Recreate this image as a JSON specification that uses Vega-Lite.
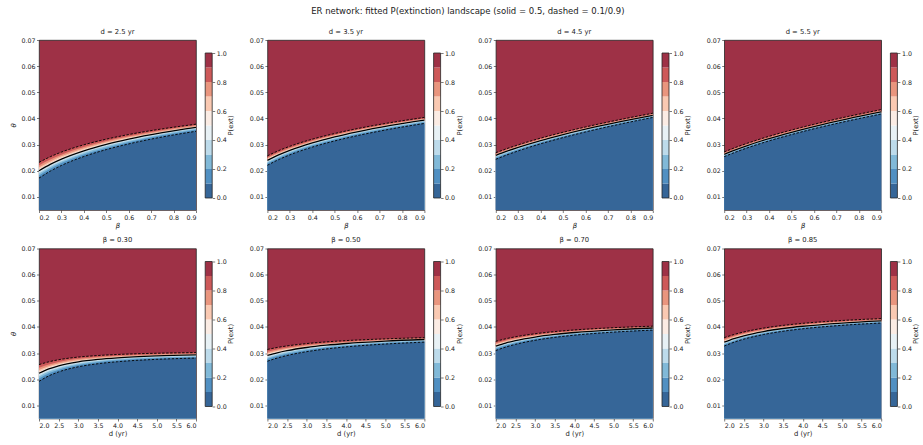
{
"$schema": "https://vega.github.io/schema/vega-lite/v6.json",
"padding": {"left": 10, "top": 7, "right": 2, "bottom": 5},
"title": {"text": "ER network: fitted P(extinction) landscape  (solid = 0.5, dashed = 0.1/0.9)", "fontSize": 8.5, "anchor": "middle", "dx": -9, "offset": 12.5, "fontWeight": "normal", "color": "#222"},
"config": {
  "font": "DejaVu Sans",
  "view": {"stroke": null},
  "axis": {"labelFont": "DejaVu Sans", "labelFontSize": 6.3, "labelColor": "#222", "tickColor": "#222", "tickSize": 2.5, "tickWidth": 0.6, "domain": false, "grid": false, "titleFont": "DejaVu Sans", "titleFontSize": 6.8, "titleFontWeight": "normal", "titleColor": "#222", "labelPadding": 1.5, "titlePadding": 2, "labelOverlap": false},
  "title": {"font": "DejaVu Sans", "fontSize": 6.8, "fontWeight": "normal", "color": "#222", "offset": 1.5},
  "area": {"interpolate": "monotone", "clip": true},
  "line": {"interpolate": "monotone", "clip": true, "color": "black"}
},
"datasets": {
"cb": [
{"b0":0,"b1":0.1,"c":"#366698"},{"b0":0.1,"b1":0.2,"c":"#5190c2"},{"b0":0.2,"b1":0.3,"c":"#81b9d8"},{"b0":0.3,"b1":0.4,"c":"#bddbeb"},{"b0":0.4,"b1":0.5,"c":"#e8f1f5"},{"b0":0.5,"b1":0.6,"c":"#fbece4"},{"b0":0.6,"b1":0.7,"c":"#fac9b2"},{"b0":0.7,"b1":0.8,"c":"#e9957e"},{"b0":0.8,"b1":0.9,"c":"#cd5959"},{"b0":0.9,"b1":1.0,"c":"#9e3146"}
],
"c": [
{"p":1,"x":0.2,"t1":0.0172,"t2":0.01823,"t3":0.01892,"t4":0.01948,"t5":0.02,"t6":0.02059,"t7":0.02124,"t8":0.02202,"t9":0.0232},
{"p":1,"x":0.25,"t1":0.01985,"t2":0.02081,"t3":0.02145,"t4":0.02198,"t5":0.02246,"t6":0.023,"t7":0.02358,"t8":0.02429,"t9":0.02536},
{"p":1,"x":0.3,"t1":0.02203,"t2":0.02293,"t3":0.02353,"t4":0.02403,"t5":0.02448,"t6":0.02497,"t7":0.02551,"t8":0.02616,"t9":0.02714},
{"p":1,"x":0.4,"t1":0.02545,"t2":0.02626,"t3":0.0268,"t4":0.02724,"t5":0.02765,"t6":0.02807,"t7":0.02853,"t8":0.02909,"t9":0.02993},
{"p":1,"x":0.5,"t1":0.0281,"t2":0.02884,"t3":0.02933,"t4":0.02974,"t5":0.03011,"t6":0.03048,"t7":0.03087,"t8":0.03136,"t9":0.03209},
{"p":1,"x":0.6,"t1":0.03027,"t2":0.03095,"t3":0.03141,"t4":0.03178,"t5":0.03212,"t6":0.03244,"t7":0.03279,"t8":0.03322,"t9":0.03386},
{"p":1,"x":0.75,"t1":0.03293,"t2":0.03354,"t3":0.03395,"t4":0.03428,"t5":0.03459,"t6":0.03486,"t7":0.03515,"t8":0.0355,"t9":0.03603},
{"p":1,"x":0.9,"t1":0.0351,"t2":0.03565,"t3":0.03602,"t4":0.03632,"t5":0.0366,"t6":0.03682,"t7":0.03706,"t8":0.03736,"t9":0.0378},
{"p":2,"x":0.2,"t1":0.0221,"t2":0.0228,"t3":0.02327,"t4":0.02365,"t5":0.024,"t6":0.02431,"t7":0.02466,"t8":0.02507,"t9":0.0257},
{"p":2,"x":0.25,"t1":0.02426,"t2":0.02493,"t3":0.02538,"t4":0.02574,"t5":0.02608,"t6":0.02638,"t7":0.0267,"t8":0.0271,"t9":0.02769},
{"p":2,"x":0.3,"t1":0.02608,"t2":0.02673,"t3":0.02715,"t4":0.02751,"t5":0.02783,"t6":0.02811,"t7":0.02842,"t8":0.0288,"t9":0.02936},
{"p":2,"x":0.4,"t1":0.02904,"t2":0.02965,"t3":0.03005,"t4":0.03038,"t5":0.03068,"t6":0.03094,"t7":0.03122,"t8":0.03156,"t9":0.03208},
{"p":2,"x":0.5,"t1":0.03141,"t2":0.03198,"t3":0.03236,"t4":0.03267,"t5":0.03296,"t6":0.0332,"t7":0.03346,"t8":0.03377,"t9":0.03425},
{"p":2,"x":0.6,"t1":0.03341,"t2":0.03396,"t3":0.03432,"t4":0.03462,"t5":0.03489,"t6":0.03511,"t7":0.03536,"t8":0.03565,"t9":0.0361},
{"p":2,"x":0.75,"t1":0.03596,"t2":0.03647,"t3":0.03681,"t4":0.03708,"t5":0.03734,"t6":0.03754,"t7":0.03776,"t8":0.03803,"t9":0.03843},
{"p":2,"x":0.9,"t1":0.0381,"t2":0.03858,"t3":0.0389,"t4":0.03916,"t5":0.0394,"t6":0.03959,"t7":0.03979,"t8":0.04003,"t9":0.0404},
{"p":3,"x":0.2,"t1":0.0244,"t2":0.02495,"t3":0.02532,"t4":0.02562,"t5":0.0259,"t6":0.02609,"t7":0.02629,"t8":0.02653,"t9":0.0269},
{"p":3,"x":0.25,"t1":0.02608,"t2":0.02661,"t3":0.02696,"t4":0.02725,"t5":0.02751,"t6":0.02769,"t7":0.02789,"t8":0.02813,"t9":0.02849},
{"p":3,"x":0.3,"t1":0.0276,"t2":0.0281,"t3":0.02844,"t4":0.02871,"t5":0.02896,"t6":0.02914,"t7":0.02933,"t8":0.02957,"t9":0.02992},
{"p":3,"x":0.4,"t1":0.03032,"t2":0.03078,"t3":0.03108,"t4":0.03133,"t5":0.03156,"t6":0.03173,"t7":0.03192,"t8":0.03215,"t9":0.03249},
{"p":3,"x":0.5,"t1":0.03269,"t2":0.03311,"t3":0.03339,"t4":0.03362,"t5":0.03383,"t6":0.034,"t7":0.03418,"t8":0.0344,"t9":0.03473},
{"p":3,"x":0.6,"t1":0.03485,"t2":0.03523,"t3":0.03549,"t4":0.0357,"t5":0.03589,"t6":0.03605,"t7":0.03623,"t8":0.03644,"t9":0.03676},
{"p":3,"x":0.75,"t1":0.03776,"t2":0.0381,"t3":0.03832,"t4":0.03851,"t5":0.03868,"t6":0.03883,"t7":0.039,"t8":0.0392,"t9":0.03951},
{"p":3,"x":0.9,"t1":0.0404,"t2":0.0407,"t3":0.04089,"t4":0.04105,"t5":0.0412,"t6":0.04135,"t7":0.04151,"t8":0.0417,"t9":0.042},
{"p":4,"x":0.2,"t1":0.0254,"t2":0.02573,"t3":0.02595,"t4":0.02613,"t5":0.0263,"t6":0.02647,"t7":0.02665,"t8":0.02687,"t9":0.0272},
{"p":4,"x":0.25,"t1":0.02711,"t2":0.02744,"t3":0.02766,"t4":0.02784,"t5":0.028,"t6":0.02817,"t7":0.02835,"t8":0.02857,"t9":0.0289},
{"p":4,"x":0.3,"t1":0.02866,"t2":0.02898,"t3":0.0292,"t4":0.02938,"t5":0.02954,"t6":0.02971,"t7":0.02989,"t8":0.03011,"t9":0.03044},
{"p":4,"x":0.4,"t1":0.03143,"t2":0.03175,"t3":0.03196,"t4":0.03213,"t5":0.03229,"t6":0.03246,"t7":0.03264,"t8":0.03286,"t9":0.03319},
{"p":4,"x":0.5,"t1":0.03384,"t2":0.03415,"t3":0.03436,"t4":0.03453,"t5":0.03469,"t6":0.03486,"t7":0.03504,"t8":0.03526,"t9":0.03559},
{"p":4,"x":0.6,"t1":0.03605,"t2":0.03636,"t3":0.03656,"t4":0.03673,"t5":0.03688,"t6":0.03705,"t7":0.03723,"t8":0.03745,"t9":0.03778},
{"p":4,"x":0.75,"t1":0.03901,"t2":0.03931,"t3":0.03951,"t4":0.03968,"t5":0.03983,"t6":0.04,"t7":0.04018,"t8":0.0404,"t9":0.04073},
{"p":4,"x":0.9,"t1":0.0417,"t2":0.042,"t3":0.04219,"t4":0.04235,"t5":0.0425,"t6":0.04267,"t7":0.04285,"t8":0.04307,"t9":0.0434},
{"p":5,"x":2,"t1":0.0192,"t2":0.02034,"t3":0.0211,"t4":0.02173,"t5":0.0223,"t6":0.02291,"t7":0.02357,"t8":0.02438,"t9":0.0256},
{"p":5,"x":2.25,"t1":0.0213,"t2":0.02228,"t3":0.02293,"t4":0.02346,"t5":0.02395,"t6":0.02446,"t7":0.025,"t8":0.02567,"t9":0.02668},
{"p":5,"x":2.5,"t1":0.02281,"t2":0.02367,"t3":0.02424,"t4":0.02471,"t5":0.02514,"t6":0.02557,"t7":0.02604,"t8":0.02661,"t9":0.02747},
{"p":5,"x":3,"t1":0.02477,"t2":0.02547,"t3":0.02594,"t4":0.02633,"t5":0.02668,"t6":0.02701,"t7":0.02737,"t8":0.02782,"t9":0.02848},
{"p":5,"x":3.5,"t1":0.02594,"t2":0.02655,"t3":0.02696,"t4":0.02729,"t5":0.0276,"t6":0.02787,"t7":0.02817,"t8":0.02853,"t9":0.02908},
{"p":5,"x":4,"t1":0.02671,"t2":0.02726,"t3":0.02763,"t4":0.02793,"t5":0.02821,"t6":0.02844,"t7":0.0287,"t8":0.02901,"t9":0.02948},
{"p":5,"x":5,"t1":0.02762,"t2":0.0281,"t3":0.02842,"t4":0.02868,"t5":0.02892,"t6":0.02911,"t7":0.02932,"t8":0.02957,"t9":0.02995},
{"p":5,"x":6,"t1":0.0281,"t2":0.02854,"t3":0.02884,"t4":0.02908,"t5":0.0293,"t6":0.02947,"t7":0.02965,"t8":0.02987,"t9":0.0302},
{"p":6,"x":2,"t1":0.0269,"t2":0.02771,"t3":0.02825,"t4":0.02869,"t5":0.0291,"t6":0.02953,"t7":0.02999,"t8":0.03055,"t9":0.0314},
{"p":6,"x":2.25,"t1":0.02812,"t2":0.02886,"t3":0.02935,"t4":0.02975,"t5":0.03012,"t6":0.0305,"t7":0.0309,"t8":0.0314,"t9":0.03215},
{"p":6,"x":2.5,"t1":0.02909,"t2":0.02977,"t3":0.03022,"t4":0.03059,"t5":0.03093,"t6":0.03127,"t7":0.03163,"t8":0.03208,"t9":0.03275},
{"p":6,"x":3,"t1":0.03055,"t2":0.03114,"t3":0.03153,"t4":0.03185,"t5":0.03215,"t6":0.03243,"t7":0.03273,"t8":0.0331,"t9":0.03365},
{"p":6,"x":3.5,"t1":0.03159,"t2":0.03212,"t3":0.03247,"t4":0.03276,"t5":0.03302,"t6":0.03325,"t7":0.03351,"t8":0.03382,"t9":0.03429},
{"p":6,"x":4,"t1":0.03238,"t2":0.03286,"t3":0.03318,"t4":0.03344,"t5":0.03368,"t6":0.03388,"t7":0.0341,"t8":0.03437,"t9":0.03478},
{"p":6,"x":5,"t1":0.03347,"t2":0.03388,"t3":0.03416,"t4":0.03438,"t5":0.03459,"t6":0.03475,"t7":0.03492,"t8":0.03513,"t9":0.03545},
{"p":6,"x":6,"t1":0.0342,"t2":0.03457,"t3":0.03481,"t4":0.03501,"t5":0.0352,"t6":0.03533,"t7":0.03547,"t8":0.03564,"t9":0.0359},
{"p":7,"x":2,"t1":0.031,"t2":0.03163,"t3":0.03204,"t4":0.03239,"t5":0.0327,"t6":0.03303,"t7":0.03339,"t8":0.03384,"t9":0.0345},
{"p":7,"x":2.25,"t1":0.0323,"t2":0.03287,"t3":0.03325,"t4":0.03356,"t5":0.03385,"t6":0.03415,"t7":0.03448,"t8":0.03487,"t9":0.03547},
{"p":7,"x":2.5,"t1":0.03334,"t2":0.03387,"t3":0.03422,"t4":0.03451,"t5":0.03477,"t6":0.03504,"t7":0.03534,"t8":0.0357,"t9":0.03624},
{"p":7,"x":3,"t1":0.0349,"t2":0.03536,"t3":0.03567,"t4":0.03592,"t5":0.03615,"t6":0.03638,"t7":0.03663,"t8":0.03694,"t9":0.0374},
{"p":7,"x":3.5,"t1":0.03602,"t2":0.03643,"t3":0.03671,"t4":0.03693,"t5":0.03714,"t6":0.03734,"t7":0.03756,"t8":0.03783,"t9":0.03823},
{"p":7,"x":4,"t1":0.03685,"t2":0.03723,"t3":0.03748,"t4":0.03769,"t5":0.03788,"t6":0.03806,"t7":0.03826,"t8":0.0385,"t9":0.03886},
{"p":7,"x":5,"t1":0.03802,"t2":0.03835,"t3":0.03857,"t4":0.03875,"t5":0.03891,"t6":0.03906,"t7":0.03922,"t8":0.03942,"t9":0.03972},
{"p":7,"x":6,"t1":0.0388,"t2":0.0391,"t3":0.03929,"t4":0.03945,"t5":0.0396,"t6":0.03973,"t7":0.03987,"t8":0.04004,"t9":0.0403},
{"p":8,"x":2,"t1":0.0327,"t2":0.03325,"t3":0.03362,"t4":0.03392,"t5":0.0342,"t6":0.03451,"t7":0.03486,"t8":0.03527,"t9":0.0359},
{"p":8,"x":2.25,"t1":0.03417,"t2":0.03468,"t3":0.03502,"t4":0.03529,"t5":0.03555,"t6":0.03584,"t7":0.03616,"t8":0.03654,"t9":0.03712},
{"p":8,"x":2.5,"t1":0.03534,"t2":0.03582,"t3":0.03613,"t4":0.03639,"t5":0.03663,"t6":0.0369,"t7":0.03719,"t8":0.03755,"t9":0.03809},
{"p":8,"x":3,"t1":0.0371,"t2":0.03752,"t3":0.03781,"t4":0.03804,"t5":0.03825,"t6":0.03849,"t7":0.03875,"t8":0.03907,"t9":0.03955},
{"p":8,"x":3.5,"t1":0.03836,"t2":0.03875,"t3":0.039,"t4":0.03922,"t5":0.03941,"t6":0.03963,"t7":0.03987,"t8":0.04016,"t9":0.0406},
{"p":8,"x":4,"t1":0.0393,"t2":0.03966,"t3":0.0399,"t4":0.0401,"t5":0.04028,"t6":0.04048,"t7":0.0407,"t8":0.04097,"t9":0.04138},
{"p":8,"x":5,"t1":0.04062,"t2":0.04094,"t3":0.04115,"t4":0.04133,"t5":0.04149,"t6":0.04167,"t7":0.04187,"t8":0.04211,"t9":0.04247},
{"p":8,"x":6,"t1":0.0415,"t2":0.0418,"t3":0.04199,"t4":0.04215,"t5":0.0423,"t6":0.04247,"t7":0.04265,"t8":0.04287,"t9":0.0432}
]
},
"columns": 8,
"align": "each",
"spacing": {"row": 38.5, "column": 9.2},
"bounds": "flush",
"concat": [
{"title": "d = 2.5 yr", "width": 157, "height": 170, "view": {"fill": "#9e3146", "stroke": "#262626", "strokeWidth": 0.8},
 "data": {"name": "c"}, "transform": [{"filter": "datum.p == 1"}, {"fold": ["t1","t2","t3","t4","t5","t6","t7","t8","t9"]}],
 "encoding": {"x": {"field": "x", "type": "quantitative", "scale": {"domain": [0.2, 0.9], "nice": false, "zero": false}, "axis": {"title": "β", "titleFontStyle": "italic", "values": [0.2,0.3,0.4,0.5,0.6,0.7,0.8,0.9], "format": ".1f"}},
   "y": {"field": "value", "type": "quantitative", "stack": null, "scale": {"domain": [0.005, 0.07], "nice": false, "zero": false}, "axis": {"title": "θ", "titleFontStyle": "italic", "titlePadding": 4, "values": [0.01,0.02,0.03,0.04,0.05,0.06,0.07], "format": ".2f"}}},
 "layer": [
  {"transform": [{"filter": "datum.key == 't9'"}], "mark": {"type": "area", "color": "#cd5959"}, "encoding": {"y2": {"datum": 0.005}}},
  {"transform": [{"filter": "datum.key == 't8'"}], "mark": {"type": "area", "color": "#e9957e"}, "encoding": {"y2": {"datum": 0.005}}},
  {"transform": [{"filter": "datum.key == 't7'"}], "mark": {"type": "area", "color": "#fac9b2"}, "encoding": {"y2": {"datum": 0.005}}},
  {"transform": [{"filter": "datum.key == 't6'"}], "mark": {"type": "area", "color": "#fbece4"}, "encoding": {"y2": {"datum": 0.005}}},
  {"transform": [{"filter": "datum.key == 't5'"}], "mark": {"type": "area", "color": "#e8f1f5"}, "encoding": {"y2": {"datum": 0.005}}},
  {"transform": [{"filter": "datum.key == 't4'"}], "mark": {"type": "area", "color": "#bddbeb"}, "encoding": {"y2": {"datum": 0.005}}},
  {"transform": [{"filter": "datum.key == 't3'"}], "mark": {"type": "area", "color": "#81b9d8"}, "encoding": {"y2": {"datum": 0.005}}},
  {"transform": [{"filter": "datum.key == 't2'"}], "mark": {"type": "area", "color": "#5190c2"}, "encoding": {"y2": {"datum": 0.005}}},
  {"transform": [{"filter": "datum.key == 't1'"}], "mark": {"type": "area", "color": "#366698"}, "encoding": {"y2": {"datum": 0.005}}},
  {"transform": [{"filter": "datum.key == 't1'"}], "mark": {"type": "line", "strokeDash": [2.5, 1.5], "strokeWidth": 0.9}, "encoding": {}},
  {"transform": [{"filter": "datum.key == 't9'"}], "mark": {"type": "line", "strokeDash": [2.5, 1.5], "strokeWidth": 0.9}, "encoding": {}},
  {"transform": [{"filter": "datum.key == 't5'"}], "mark": {"type": "line", "strokeWidth": 1.3}, "encoding": {}}
 ]},
{"width": 52.7, "height": 170, "data": {"name": "cb"},
 "encoding": {"x": {"datum": 0, "type": "quantitative", "scale": {"domain": [0, 7.529], "nice": false, "zero": false}, "axis": null}, "x2": {"datum": 1},
   "y": {"field": "b0", "type": "quantitative", "scale": {"domain": [-0.0828, 1.0897], "nice": false, "zero": false}, "axis": {"orient": "right", "offset": -45.7, "values": [0,0.2,0.4,0.6,0.8,1], "format": ".1f", "title": "P(ext)", "titleAngle": 270, "titleBaseline": "top", "titlePadding": 1.5}}, "y2": {"field": "b1"}},
 "layer": [
  {"mark": {"type": "rect"}, "encoding": {"fill": {"field": "c", "type": "nominal", "scale": null}}},
  {"transform": [{"aggregate": [{"op": "min", "field": "b0", "as": "b0"}, {"op": "max", "field": "b1", "as": "b1"}]}], "mark": {"type": "rect", "fill": "transparent", "stroke": "#262626", "strokeWidth": 0.8}}
 ]},
{"title": "d = 3.5 yr", "width": 157, "height": 170, "view": {"fill": "#9e3146", "stroke": "#262626", "strokeWidth": 0.8},
 "data": {"name": "c"}, "transform": [{"filter": "datum.p == 2"}, {"fold": ["t1","t2","t3","t4","t5","t6","t7","t8","t9"]}],
 "encoding": {"x": {"field": "x", "type": "quantitative", "scale": {"domain": [0.2, 0.9], "nice": false, "zero": false}, "axis": {"title": "β", "titleFontStyle": "italic", "values": [0.2,0.3,0.4,0.5,0.6,0.7,0.8,0.9], "format": ".1f"}},
   "y": {"field": "value", "type": "quantitative", "stack": null, "scale": {"domain": [0.005, 0.07], "nice": false, "zero": false}, "axis": {"title": null, "values": [0.01,0.02,0.03,0.04,0.05,0.06,0.07], "format": ".2f"}}},
 "layer": [
  {"transform": [{"filter": "datum.key == 't9'"}], "mark": {"type": "area", "color": "#cd5959"}, "encoding": {"y2": {"datum": 0.005}}},
  {"transform": [{"filter": "datum.key == 't8'"}], "mark": {"type": "area", "color": "#e9957e"}, "encoding": {"y2": {"datum": 0.005}}},
  {"transform": [{"filter": "datum.key == 't7'"}], "mark": {"type": "area", "color": "#fac9b2"}, "encoding": {"y2": {"datum": 0.005}}},
  {"transform": [{"filter": "datum.key == 't6'"}], "mark": {"type": "area", "color": "#fbece4"}, "encoding": {"y2": {"datum": 0.005}}},
  {"transform": [{"filter": "datum.key == 't5'"}], "mark": {"type": "area", "color": "#e8f1f5"}, "encoding": {"y2": {"datum": 0.005}}},
  {"transform": [{"filter": "datum.key == 't4'"}], "mark": {"type": "area", "color": "#bddbeb"}, "encoding": {"y2": {"datum": 0.005}}},
  {"transform": [{"filter": "datum.key == 't3'"}], "mark": {"type": "area", "color": "#81b9d8"}, "encoding": {"y2": {"datum": 0.005}}},
  {"transform": [{"filter": "datum.key == 't2'"}], "mark": {"type": "area", "color": "#5190c2"}, "encoding": {"y2": {"datum": 0.005}}},
  {"transform": [{"filter": "datum.key == 't1'"}], "mark": {"type": "area", "color": "#366698"}, "encoding": {"y2": {"datum": 0.005}}},
  {"transform": [{"filter": "datum.key == 't1'"}], "mark": {"type": "line", "strokeDash": [2.5, 1.5], "strokeWidth": 0.9}, "encoding": {}},
  {"transform": [{"filter": "datum.key == 't9'"}], "mark": {"type": "line", "strokeDash": [2.5, 1.5], "strokeWidth": 0.9}, "encoding": {}},
  {"transform": [{"filter": "datum.key == 't5'"}], "mark": {"type": "line", "strokeWidth": 1.3}, "encoding": {}}
 ]},
{"width": 52.7, "height": 170, "data": {"name": "cb"},
 "encoding": {"x": {"datum": 0, "type": "quantitative", "scale": {"domain": [0, 7.529], "nice": false, "zero": false}, "axis": null}, "x2": {"datum": 1},
   "y": {"field": "b0", "type": "quantitative", "scale": {"domain": [-0.0828, 1.0897], "nice": false, "zero": false}, "axis": {"orient": "right", "offset": -45.7, "values": [0,0.2,0.4,0.6,0.8,1], "format": ".1f", "title": "P(ext)", "titleAngle": 270, "titleBaseline": "top", "titlePadding": 1.5}}, "y2": {"field": "b1"}},
 "layer": [
  {"mark": {"type": "rect"}, "encoding": {"fill": {"field": "c", "type": "nominal", "scale": null}}},
  {"transform": [{"aggregate": [{"op": "min", "field": "b0", "as": "b0"}, {"op": "max", "field": "b1", "as": "b1"}]}], "mark": {"type": "rect", "fill": "transparent", "stroke": "#262626", "strokeWidth": 0.8}}
 ]},
{"title": "d = 4.5 yr", "width": 157, "height": 170, "view": {"fill": "#9e3146", "stroke": "#262626", "strokeWidth": 0.8},
 "data": {"name": "c"}, "transform": [{"filter": "datum.p == 3"}, {"fold": ["t1","t2","t3","t4","t5","t6","t7","t8","t9"]}],
 "encoding": {"x": {"field": "x", "type": "quantitative", "scale": {"domain": [0.2, 0.9], "nice": false, "zero": false}, "axis": {"title": "β", "titleFontStyle": "italic", "values": [0.2,0.3,0.4,0.5,0.6,0.7,0.8,0.9], "format": ".1f"}},
   "y": {"field": "value", "type": "quantitative", "stack": null, "scale": {"domain": [0.005, 0.07], "nice": false, "zero": false}, "axis": {"title": null, "values": [0.01,0.02,0.03,0.04,0.05,0.06,0.07], "format": ".2f"}}},
 "layer": [
  {"transform": [{"filter": "datum.key == 't9'"}], "mark": {"type": "area", "color": "#cd5959"}, "encoding": {"y2": {"datum": 0.005}}},
  {"transform": [{"filter": "datum.key == 't8'"}], "mark": {"type": "area", "color": "#e9957e"}, "encoding": {"y2": {"datum": 0.005}}},
  {"transform": [{"filter": "datum.key == 't7'"}], "mark": {"type": "area", "color": "#fac9b2"}, "encoding": {"y2": {"datum": 0.005}}},
  {"transform": [{"filter": "datum.key == 't6'"}], "mark": {"type": "area", "color": "#fbece4"}, "encoding": {"y2": {"datum": 0.005}}},
  {"transform": [{"filter": "datum.key == 't5'"}], "mark": {"type": "area", "color": "#e8f1f5"}, "encoding": {"y2": {"datum": 0.005}}},
  {"transform": [{"filter": "datum.key == 't4'"}], "mark": {"type": "area", "color": "#bddbeb"}, "encoding": {"y2": {"datum": 0.005}}},
  {"transform": [{"filter": "datum.key == 't3'"}], "mark": {"type": "area", "color": "#81b9d8"}, "encoding": {"y2": {"datum": 0.005}}},
  {"transform": [{"filter": "datum.key == 't2'"}], "mark": {"type": "area", "color": "#5190c2"}, "encoding": {"y2": {"datum": 0.005}}},
  {"transform": [{"filter": "datum.key == 't1'"}], "mark": {"type": "area", "color": "#366698"}, "encoding": {"y2": {"datum": 0.005}}},
  {"transform": [{"filter": "datum.key == 't1'"}], "mark": {"type": "line", "strokeDash": [2.5, 1.5], "strokeWidth": 0.9}, "encoding": {}},
  {"transform": [{"filter": "datum.key == 't9'"}], "mark": {"type": "line", "strokeDash": [2.5, 1.5], "strokeWidth": 0.9}, "encoding": {}},
  {"transform": [{"filter": "datum.key == 't5'"}], "mark": {"type": "line", "strokeWidth": 1.3}, "encoding": {}}
 ]},
{"width": 52.7, "height": 170, "data": {"name": "cb"},
 "encoding": {"x": {"datum": 0, "type": "quantitative", "scale": {"domain": [0, 7.529], "nice": false, "zero": false}, "axis": null}, "x2": {"datum": 1},
   "y": {"field": "b0", "type": "quantitative", "scale": {"domain": [-0.0828, 1.0897], "nice": false, "zero": false}, "axis": {"orient": "right", "offset": -45.7, "values": [0,0.2,0.4,0.6,0.8,1], "format": ".1f", "title": "P(ext)", "titleAngle": 270, "titleBaseline": "top", "titlePadding": 1.5}}, "y2": {"field": "b1"}},
 "layer": [
  {"mark": {"type": "rect"}, "encoding": {"fill": {"field": "c", "type": "nominal", "scale": null}}},
  {"transform": [{"aggregate": [{"op": "min", "field": "b0", "as": "b0"}, {"op": "max", "field": "b1", "as": "b1"}]}], "mark": {"type": "rect", "fill": "transparent", "stroke": "#262626", "strokeWidth": 0.8}}
 ]},
{"title": "d = 5.5 yr", "width": 157, "height": 170, "view": {"fill": "#9e3146", "stroke": "#262626", "strokeWidth": 0.8},
 "data": {"name": "c"}, "transform": [{"filter": "datum.p == 4"}, {"fold": ["t1","t2","t3","t4","t5","t6","t7","t8","t9"]}],
 "encoding": {"x": {"field": "x", "type": "quantitative", "scale": {"domain": [0.2, 0.9], "nice": false, "zero": false}, "axis": {"title": "β", "titleFontStyle": "italic", "values": [0.2,0.3,0.4,0.5,0.6,0.7,0.8,0.9], "format": ".1f"}},
   "y": {"field": "value", "type": "quantitative", "stack": null, "scale": {"domain": [0.005, 0.07], "nice": false, "zero": false}, "axis": {"title": null, "values": [0.01,0.02,0.03,0.04,0.05,0.06,0.07], "format": ".2f"}}},
 "layer": [
  {"transform": [{"filter": "datum.key == 't9'"}], "mark": {"type": "area", "color": "#cd5959"}, "encoding": {"y2": {"datum": 0.005}}},
  {"transform": [{"filter": "datum.key == 't8'"}], "mark": {"type": "area", "color": "#e9957e"}, "encoding": {"y2": {"datum": 0.005}}},
  {"transform": [{"filter": "datum.key == 't7'"}], "mark": {"type": "area", "color": "#fac9b2"}, "encoding": {"y2": {"datum": 0.005}}},
  {"transform": [{"filter": "datum.key == 't6'"}], "mark": {"type": "area", "color": "#fbece4"}, "encoding": {"y2": {"datum": 0.005}}},
  {"transform": [{"filter": "datum.key == 't5'"}], "mark": {"type": "area", "color": "#e8f1f5"}, "encoding": {"y2": {"datum": 0.005}}},
  {"transform": [{"filter": "datum.key == 't4'"}], "mark": {"type": "area", "color": "#bddbeb"}, "encoding": {"y2": {"datum": 0.005}}},
  {"transform": [{"filter": "datum.key == 't3'"}], "mark": {"type": "area", "color": "#81b9d8"}, "encoding": {"y2": {"datum": 0.005}}},
  {"transform": [{"filter": "datum.key == 't2'"}], "mark": {"type": "area", "color": "#5190c2"}, "encoding": {"y2": {"datum": 0.005}}},
  {"transform": [{"filter": "datum.key == 't1'"}], "mark": {"type": "area", "color": "#366698"}, "encoding": {"y2": {"datum": 0.005}}},
  {"transform": [{"filter": "datum.key == 't1'"}], "mark": {"type": "line", "strokeDash": [2.5, 1.5], "strokeWidth": 0.9}, "encoding": {}},
  {"transform": [{"filter": "datum.key == 't9'"}], "mark": {"type": "line", "strokeDash": [2.5, 1.5], "strokeWidth": 0.9}, "encoding": {}},
  {"transform": [{"filter": "datum.key == 't5'"}], "mark": {"type": "line", "strokeWidth": 1.3}, "encoding": {}}
 ]},
{"width": 52.7, "height": 170, "data": {"name": "cb"},
 "encoding": {"x": {"datum": 0, "type": "quantitative", "scale": {"domain": [0, 7.529], "nice": false, "zero": false}, "axis": null}, "x2": {"datum": 1},
   "y": {"field": "b0", "type": "quantitative", "scale": {"domain": [-0.0828, 1.0897], "nice": false, "zero": false}, "axis": {"orient": "right", "offset": -45.7, "values": [0,0.2,0.4,0.6,0.8,1], "format": ".1f", "title": "P(ext)", "titleAngle": 270, "titleBaseline": "top", "titlePadding": 1.5}}, "y2": {"field": "b1"}},
 "layer": [
  {"mark": {"type": "rect"}, "encoding": {"fill": {"field": "c", "type": "nominal", "scale": null}}},
  {"transform": [{"aggregate": [{"op": "min", "field": "b0", "as": "b0"}, {"op": "max", "field": "b1", "as": "b1"}]}], "mark": {"type": "rect", "fill": "transparent", "stroke": "#262626", "strokeWidth": 0.8}}
 ]},
{"title": "β = 0.30", "width": 157, "height": 170, "view": {"fill": "#9e3146", "stroke": "#262626", "strokeWidth": 0.8},
 "data": {"name": "c"}, "transform": [{"filter": "datum.p == 5"}, {"fold": ["t1","t2","t3","t4","t5","t6","t7","t8","t9"]}],
 "encoding": {"x": {"field": "x", "type": "quantitative", "scale": {"domain": [2, 6], "nice": false, "zero": false}, "axis": {"title": "d (yr)", "values": [2,2.5,3,3.5,4,4.5,5,5.5,6], "format": ".1f"}},
   "y": {"field": "value", "type": "quantitative", "stack": null, "scale": {"domain": [0.005, 0.07], "nice": false, "zero": false}, "axis": {"title": "θ", "titleFontStyle": "italic", "titlePadding": 4, "values": [0.01,0.02,0.03,0.04,0.05,0.06,0.07], "format": ".2f"}}},
 "layer": [
  {"transform": [{"filter": "datum.key == 't9'"}], "mark": {"type": "area", "color": "#cd5959"}, "encoding": {"y2": {"datum": 0.005}}},
  {"transform": [{"filter": "datum.key == 't8'"}], "mark": {"type": "area", "color": "#e9957e"}, "encoding": {"y2": {"datum": 0.005}}},
  {"transform": [{"filter": "datum.key == 't7'"}], "mark": {"type": "area", "color": "#fac9b2"}, "encoding": {"y2": {"datum": 0.005}}},
  {"transform": [{"filter": "datum.key == 't6'"}], "mark": {"type": "area", "color": "#fbece4"}, "encoding": {"y2": {"datum": 0.005}}},
  {"transform": [{"filter": "datum.key == 't5'"}], "mark": {"type": "area", "color": "#e8f1f5"}, "encoding": {"y2": {"datum": 0.005}}},
  {"transform": [{"filter": "datum.key == 't4'"}], "mark": {"type": "area", "color": "#bddbeb"}, "encoding": {"y2": {"datum": 0.005}}},
  {"transform": [{"filter": "datum.key == 't3'"}], "mark": {"type": "area", "color": "#81b9d8"}, "encoding": {"y2": {"datum": 0.005}}},
  {"transform": [{"filter": "datum.key == 't2'"}], "mark": {"type": "area", "color": "#5190c2"}, "encoding": {"y2": {"datum": 0.005}}},
  {"transform": [{"filter": "datum.key == 't1'"}], "mark": {"type": "area", "color": "#366698"}, "encoding": {"y2": {"datum": 0.005}}},
  {"transform": [{"filter": "datum.key == 't1'"}], "mark": {"type": "line", "strokeDash": [2.5, 1.5], "strokeWidth": 0.9}, "encoding": {}},
  {"transform": [{"filter": "datum.key == 't9'"}], "mark": {"type": "line", "strokeDash": [2.5, 1.5], "strokeWidth": 0.9}, "encoding": {}},
  {"transform": [{"filter": "datum.key == 't5'"}], "mark": {"type": "line", "strokeWidth": 1.3}, "encoding": {}}
 ]},
{"width": 52.7, "height": 170, "data": {"name": "cb"},
 "encoding": {"x": {"datum": 0, "type": "quantitative", "scale": {"domain": [0, 7.529], "nice": false, "zero": false}, "axis": null}, "x2": {"datum": 1},
   "y": {"field": "b0", "type": "quantitative", "scale": {"domain": [-0.0828, 1.0897], "nice": false, "zero": false}, "axis": {"orient": "right", "offset": -45.7, "values": [0,0.2,0.4,0.6,0.8,1], "format": ".1f", "title": "P(ext)", "titleAngle": 270, "titleBaseline": "top", "titlePadding": 1.5}}, "y2": {"field": "b1"}},
 "layer": [
  {"mark": {"type": "rect"}, "encoding": {"fill": {"field": "c", "type": "nominal", "scale": null}}},
  {"transform": [{"aggregate": [{"op": "min", "field": "b0", "as": "b0"}, {"op": "max", "field": "b1", "as": "b1"}]}], "mark": {"type": "rect", "fill": "transparent", "stroke": "#262626", "strokeWidth": 0.8}}
 ]},
{"title": "β = 0.50", "width": 157, "height": 170, "view": {"fill": "#9e3146", "stroke": "#262626", "strokeWidth": 0.8},
 "data": {"name": "c"}, "transform": [{"filter": "datum.p == 6"}, {"fold": ["t1","t2","t3","t4","t5","t6","t7","t8","t9"]}],
 "encoding": {"x": {"field": "x", "type": "quantitative", "scale": {"domain": [2, 6], "nice": false, "zero": false}, "axis": {"title": "d (yr)", "values": [2,2.5,3,3.5,4,4.5,5,5.5,6], "format": ".1f"}},
   "y": {"field": "value", "type": "quantitative", "stack": null, "scale": {"domain": [0.005, 0.07], "nice": false, "zero": false}, "axis": {"title": null, "values": [0.01,0.02,0.03,0.04,0.05,0.06,0.07], "format": ".2f"}}},
 "layer": [
  {"transform": [{"filter": "datum.key == 't9'"}], "mark": {"type": "area", "color": "#cd5959"}, "encoding": {"y2": {"datum": 0.005}}},
  {"transform": [{"filter": "datum.key == 't8'"}], "mark": {"type": "area", "color": "#e9957e"}, "encoding": {"y2": {"datum": 0.005}}},
  {"transform": [{"filter": "datum.key == 't7'"}], "mark": {"type": "area", "color": "#fac9b2"}, "encoding": {"y2": {"datum": 0.005}}},
  {"transform": [{"filter": "datum.key == 't6'"}], "mark": {"type": "area", "color": "#fbece4"}, "encoding": {"y2": {"datum": 0.005}}},
  {"transform": [{"filter": "datum.key == 't5'"}], "mark": {"type": "area", "color": "#e8f1f5"}, "encoding": {"y2": {"datum": 0.005}}},
  {"transform": [{"filter": "datum.key == 't4'"}], "mark": {"type": "area", "color": "#bddbeb"}, "encoding": {"y2": {"datum": 0.005}}},
  {"transform": [{"filter": "datum.key == 't3'"}], "mark": {"type": "area", "color": "#81b9d8"}, "encoding": {"y2": {"datum": 0.005}}},
  {"transform": [{"filter": "datum.key == 't2'"}], "mark": {"type": "area", "color": "#5190c2"}, "encoding": {"y2": {"datum": 0.005}}},
  {"transform": [{"filter": "datum.key == 't1'"}], "mark": {"type": "area", "color": "#366698"}, "encoding": {"y2": {"datum": 0.005}}},
  {"transform": [{"filter": "datum.key == 't1'"}], "mark": {"type": "line", "strokeDash": [2.5, 1.5], "strokeWidth": 0.9}, "encoding": {}},
  {"transform": [{"filter": "datum.key == 't9'"}], "mark": {"type": "line", "strokeDash": [2.5, 1.5], "strokeWidth": 0.9}, "encoding": {}},
  {"transform": [{"filter": "datum.key == 't5'"}], "mark": {"type": "line", "strokeWidth": 1.3}, "encoding": {}}
 ]},
{"width": 52.7, "height": 170, "data": {"name": "cb"},
 "encoding": {"x": {"datum": 0, "type": "quantitative", "scale": {"domain": [0, 7.529], "nice": false, "zero": false}, "axis": null}, "x2": {"datum": 1},
   "y": {"field": "b0", "type": "quantitative", "scale": {"domain": [-0.0828, 1.0897], "nice": false, "zero": false}, "axis": {"orient": "right", "offset": -45.7, "values": [0,0.2,0.4,0.6,0.8,1], "format": ".1f", "title": "P(ext)", "titleAngle": 270, "titleBaseline": "top", "titlePadding": 1.5}}, "y2": {"field": "b1"}},
 "layer": [
  {"mark": {"type": "rect"}, "encoding": {"fill": {"field": "c", "type": "nominal", "scale": null}}},
  {"transform": [{"aggregate": [{"op": "min", "field": "b0", "as": "b0"}, {"op": "max", "field": "b1", "as": "b1"}]}], "mark": {"type": "rect", "fill": "transparent", "stroke": "#262626", "strokeWidth": 0.8}}
 ]},
{"title": "β = 0.70", "width": 157, "height": 170, "view": {"fill": "#9e3146", "stroke": "#262626", "strokeWidth": 0.8},
 "data": {"name": "c"}, "transform": [{"filter": "datum.p == 7"}, {"fold": ["t1","t2","t3","t4","t5","t6","t7","t8","t9"]}],
 "encoding": {"x": {"field": "x", "type": "quantitative", "scale": {"domain": [2, 6], "nice": false, "zero": false}, "axis": {"title": "d (yr)", "values": [2,2.5,3,3.5,4,4.5,5,5.5,6], "format": ".1f"}},
   "y": {"field": "value", "type": "quantitative", "stack": null, "scale": {"domain": [0.005, 0.07], "nice": false, "zero": false}, "axis": {"title": null, "values": [0.01,0.02,0.03,0.04,0.05,0.06,0.07], "format": ".2f"}}},
 "layer": [
  {"transform": [{"filter": "datum.key == 't9'"}], "mark": {"type": "area", "color": "#cd5959"}, "encoding": {"y2": {"datum": 0.005}}},
  {"transform": [{"filter": "datum.key == 't8'"}], "mark": {"type": "area", "color": "#e9957e"}, "encoding": {"y2": {"datum": 0.005}}},
  {"transform": [{"filter": "datum.key == 't7'"}], "mark": {"type": "area", "color": "#fac9b2"}, "encoding": {"y2": {"datum": 0.005}}},
  {"transform": [{"filter": "datum.key == 't6'"}], "mark": {"type": "area", "color": "#fbece4"}, "encoding": {"y2": {"datum": 0.005}}},
  {"transform": [{"filter": "datum.key == 't5'"}], "mark": {"type": "area", "color": "#e8f1f5"}, "encoding": {"y2": {"datum": 0.005}}},
  {"transform": [{"filter": "datum.key == 't4'"}], "mark": {"type": "area", "color": "#bddbeb"}, "encoding": {"y2": {"datum": 0.005}}},
  {"transform": [{"filter": "datum.key == 't3'"}], "mark": {"type": "area", "color": "#81b9d8"}, "encoding": {"y2": {"datum": 0.005}}},
  {"transform": [{"filter": "datum.key == 't2'"}], "mark": {"type": "area", "color": "#5190c2"}, "encoding": {"y2": {"datum": 0.005}}},
  {"transform": [{"filter": "datum.key == 't1'"}], "mark": {"type": "area", "color": "#366698"}, "encoding": {"y2": {"datum": 0.005}}},
  {"transform": [{"filter": "datum.key == 't1'"}], "mark": {"type": "line", "strokeDash": [2.5, 1.5], "strokeWidth": 0.9}, "encoding": {}},
  {"transform": [{"filter": "datum.key == 't9'"}], "mark": {"type": "line", "strokeDash": [2.5, 1.5], "strokeWidth": 0.9}, "encoding": {}},
  {"transform": [{"filter": "datum.key == 't5'"}], "mark": {"type": "line", "strokeWidth": 1.3}, "encoding": {}}
 ]},
{"width": 52.7, "height": 170, "data": {"name": "cb"},
 "encoding": {"x": {"datum": 0, "type": "quantitative", "scale": {"domain": [0, 7.529], "nice": false, "zero": false}, "axis": null}, "x2": {"datum": 1},
   "y": {"field": "b0", "type": "quantitative", "scale": {"domain": [-0.0828, 1.0897], "nice": false, "zero": false}, "axis": {"orient": "right", "offset": -45.7, "values": [0,0.2,0.4,0.6,0.8,1], "format": ".1f", "title": "P(ext)", "titleAngle": 270, "titleBaseline": "top", "titlePadding": 1.5}}, "y2": {"field": "b1"}},
 "layer": [
  {"mark": {"type": "rect"}, "encoding": {"fill": {"field": "c", "type": "nominal", "scale": null}}},
  {"transform": [{"aggregate": [{"op": "min", "field": "b0", "as": "b0"}, {"op": "max", "field": "b1", "as": "b1"}]}], "mark": {"type": "rect", "fill": "transparent", "stroke": "#262626", "strokeWidth": 0.8}}
 ]},
{"title": "β = 0.85", "width": 157, "height": 170, "view": {"fill": "#9e3146", "stroke": "#262626", "strokeWidth": 0.8},
 "data": {"name": "c"}, "transform": [{"filter": "datum.p == 8"}, {"fold": ["t1","t2","t3","t4","t5","t6","t7","t8","t9"]}],
 "encoding": {"x": {"field": "x", "type": "quantitative", "scale": {"domain": [2, 6], "nice": false, "zero": false}, "axis": {"title": "d (yr)", "values": [2,2.5,3,3.5,4,4.5,5,5.5,6], "format": ".1f"}},
   "y": {"field": "value", "type": "quantitative", "stack": null, "scale": {"domain": [0.005, 0.07], "nice": false, "zero": false}, "axis": {"title": null, "values": [0.01,0.02,0.03,0.04,0.05,0.06,0.07], "format": ".2f"}}},
 "layer": [
  {"transform": [{"filter": "datum.key == 't9'"}], "mark": {"type": "area", "color": "#cd5959"}, "encoding": {"y2": {"datum": 0.005}}},
  {"transform": [{"filter": "datum.key == 't8'"}], "mark": {"type": "area", "color": "#e9957e"}, "encoding": {"y2": {"datum": 0.005}}},
  {"transform": [{"filter": "datum.key == 't7'"}], "mark": {"type": "area", "color": "#fac9b2"}, "encoding": {"y2": {"datum": 0.005}}},
  {"transform": [{"filter": "datum.key == 't6'"}], "mark": {"type": "area", "color": "#fbece4"}, "encoding": {"y2": {"datum": 0.005}}},
  {"transform": [{"filter": "datum.key == 't5'"}], "mark": {"type": "area", "color": "#e8f1f5"}, "encoding": {"y2": {"datum": 0.005}}},
  {"transform": [{"filter": "datum.key == 't4'"}], "mark": {"type": "area", "color": "#bddbeb"}, "encoding": {"y2": {"datum": 0.005}}},
  {"transform": [{"filter": "datum.key == 't3'"}], "mark": {"type": "area", "color": "#81b9d8"}, "encoding": {"y2": {"datum": 0.005}}},
  {"transform": [{"filter": "datum.key == 't2'"}], "mark": {"type": "area", "color": "#5190c2"}, "encoding": {"y2": {"datum": 0.005}}},
  {"transform": [{"filter": "datum.key == 't1'"}], "mark": {"type": "area", "color": "#366698"}, "encoding": {"y2": {"datum": 0.005}}},
  {"transform": [{"filter": "datum.key == 't1'"}], "mark": {"type": "line", "strokeDash": [2.5, 1.5], "strokeWidth": 0.9}, "encoding": {}},
  {"transform": [{"filter": "datum.key == 't9'"}], "mark": {"type": "line", "strokeDash": [2.5, 1.5], "strokeWidth": 0.9}, "encoding": {}},
  {"transform": [{"filter": "datum.key == 't5'"}], "mark": {"type": "line", "strokeWidth": 1.3}, "encoding": {}}
 ]},
{"width": 52.7, "height": 170, "data": {"name": "cb"},
 "encoding": {"x": {"datum": 0, "type": "quantitative", "scale": {"domain": [0, 7.529], "nice": false, "zero": false}, "axis": null}, "x2": {"datum": 1},
   "y": {"field": "b0", "type": "quantitative", "scale": {"domain": [-0.0828, 1.0897], "nice": false, "zero": false}, "axis": {"orient": "right", "offset": -45.7, "values": [0,0.2,0.4,0.6,0.8,1], "format": ".1f", "title": "P(ext)", "titleAngle": 270, "titleBaseline": "top", "titlePadding": 1.5}}, "y2": {"field": "b1"}},
 "layer": [
  {"mark": {"type": "rect"}, "encoding": {"fill": {"field": "c", "type": "nominal", "scale": null}}},
  {"transform": [{"aggregate": [{"op": "min", "field": "b0", "as": "b0"}, {"op": "max", "field": "b1", "as": "b1"}]}], "mark": {"type": "rect", "fill": "transparent", "stroke": "#262626", "strokeWidth": 0.8}}
 ]}
]
}
